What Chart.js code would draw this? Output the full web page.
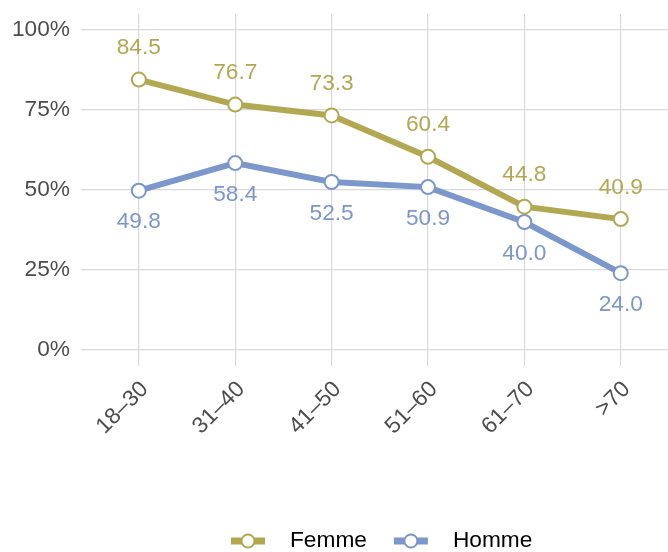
<!DOCTYPE html>
<html>
<head>
<meta charset="utf-8">
<script src="https://cdn.jsdelivr.net/npm/chart.js@4/dist/chart.umd.min.js"></script>
<style>
  html, body { margin: 0; padding: 0; background: #fff; overflow: hidden; }
  #wrap { width: 677px; height: 552px; }
</style>
</head>
<body>
<div id="wrap"><canvas id="ageChart"></canvas></div>
<script>
const categories = ['18–30', '31–40', '41–50', '51–60', '61–70', '>70'];
const femme = [84.5, 76.7, 73.3, 60.4, 44.8, 40.9];
const homme = [49.8, 58.4, 52.5, 50.9, 40.0, 24.0];
const yTicks = [0, 25, 50, 75, 100];

const femmeColor = '#b3a852';
const hommeColor = '#7b97cb';
const fontFamily = '"Liberation Sans", Arial, sans-serif';
const fontSize = 22.7;

// value labels above (Femme) / below (Homme) each point
const valueLabels = {
    id: 'valueLabels',
    afterDatasetsDraw(chart) {
        const ctx = chart.ctx;
        ctx.save();
        ctx.font = fontSize + 'px ' + fontFamily;
        ctx.textAlign = 'center';
        ctx.textBaseline = 'middle';
        chart.data.datasets.forEach((ds, i) => {
            const meta = chart.getDatasetMeta(i);
            ctx.fillStyle = ds.borderColor;
            meta.data.forEach((pt, j) => {
                const dy = ds.labelAbove ? -31.5 : 31.5;
                ctx.fillText(ds.data[j].y.toFixed(1), pt.x, pt.y + dy);
            });
        });
        ctx.restore();
    }
};

// ggplot-like legend at the bottom: thick line + open circle, then label
const bottomLegend = {
    id: 'bottomLegend',
    afterDraw(chart) {
        const ctx = chart.ctx;
        const y = 541;
        let x = 231;
        ctx.save();
        ctx.font = fontSize + 'px ' + fontFamily;
        ctx.textBaseline = 'middle';
        chart.data.datasets.forEach(ds => {
            ctx.strokeStyle = ds.borderColor;
            ctx.lineWidth = 7;
            ctx.beginPath();
            ctx.moveTo(x, y);
            ctx.lineTo(x + 34, y);
            ctx.stroke();
            ctx.fillStyle = '#fff';
            ctx.lineWidth = 2;
            ctx.beginPath();
            ctx.arc(x + 17, y, 6.5, 0, Math.PI * 2);
            ctx.fill();
            ctx.stroke();
            ctx.fillStyle = '#000';
            ctx.textAlign = 'left';
            ctx.fillText(ds.label, x + 59, y);
            x += 59 + ctx.measureText(ds.label).width + 27;
        });
        ctx.restore();
    }
};

const toPoints = arr => arr.map((v, i) => ({ x: i, y: v }));

new Chart(document.getElementById('ageChart'), {
    type: 'line',
    data: {
        datasets: [{
            label: 'Femme',
            data: toPoints(femme),
            borderColor: femmeColor,
            borderWidth: 6,
            pointRadius: 7,
            pointBorderWidth: 2,
            pointBackgroundColor: '#fff',
            pointBorderColor: femmeColor,
            labelAbove: true
        }, {
            label: 'Homme',
            data: toPoints(homme),
            borderColor: hommeColor,
            borderWidth: 6,
            pointRadius: 7,
            pointBorderWidth: 2,
            pointBackgroundColor: '#fff',
            pointBorderColor: hommeColor,
            labelAbove: false
        }]
    },
    options: {
        responsive: true,
        maintainAspectRatio: false,
        animation: false,
        layout: { padding: { top: 14, right: 0, left: 0, bottom: 0 } },
        scales: {
            x: {
                type: 'linear',
                min: -0.6,
                max: 5.49,
                afterBuildTicks: scale => {
                    scale.ticks = categories.map((c, i) => ({ value: i }));
                },
                afterFit: scale => {
                    scale.height = 186;
                    scale.paddingLeft = 0;
                    scale.paddingRight = 0;
                },
                ticks: {
                    autoSkip: false,
                    minRotation: 45,
                    maxRotation: 45,
                    padding: 10,
                    labelOffset: 6,
                    color: '#4d4d4d',
                    font: { family: fontFamily, size: fontSize },
                    callback: v => categories[v]
                },
                grid: { color: '#d9d9d9', lineWidth: 1.2, drawTicks: false },
                border: { display: false }
            },
            y: {
                min: -5,
                max: 105,
                afterBuildTicks: scale => {
                    scale.ticks = yTicks.map(v => ({ value: v }));
                },
                afterFit: scale => {
                    scale.width = 81;
                    scale.paddingTop = 0;
                    scale.paddingBottom = 0;
                },
                ticks: {
                    padding: 11,
                    color: '#4d4d4d',
                    font: { family: fontFamily, size: fontSize },
                    callback: v => v + '%'
                },
                grid: { color: '#d9d9d9', lineWidth: 1.2, drawTicks: false },
                border: { display: false }
            }
        },
        plugins: {
            legend: { display: false },
            tooltip: { enabled: false }
        }
    },
    plugins: [valueLabels, bottomLegend]
});
</script>
</body>
</html>
